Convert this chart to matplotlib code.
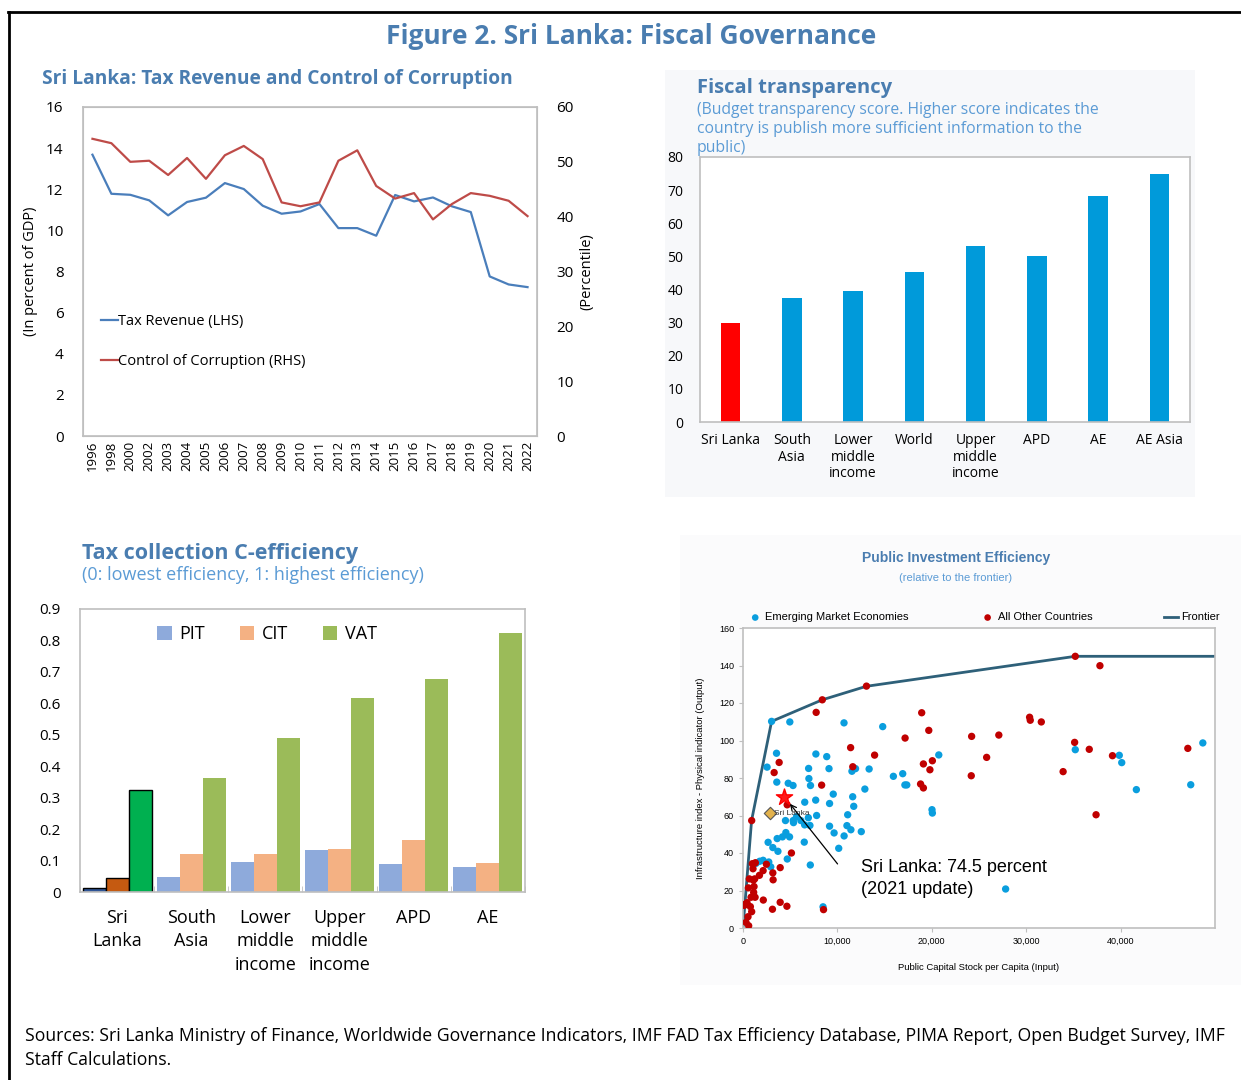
import numpy as np
import matplotlib
matplotlib.use("Agg")
import matplotlib.pyplot as plt
from matplotlib.lines import Line2D
from matplotlib.patches import Rectangle

plt.rcParams['font.family'] = ['Open Sans', 'DejaVu Sans']
NARROW = ['Liberation Sans Narrow', 'Liberation Sans', 'DejaVu Sans']

# ---- data: tax revenue / control of corruption
years = ['1996', '1998', '2000', '2002', '2003', '2004', '2005', '2006', '2007', '2008',
         '2009', '2010', '2011', '2012', '2013', '2014', '2015', '2016', '2017', '2018',
         '2019', '2020', '2021', '2022']
tax_revenue = [13.68, 11.78, 11.73, 11.46, 10.73, 11.38, 11.59, 12.30, 12.01, 11.20,
               10.81, 10.92, 11.28, 10.11, 10.11, 9.74, 11.72, 11.41, 11.60, 11.17,
               10.89, 7.76, 7.37, 7.24]
corruption = [54.2, 53.4, 50.0, 50.2, 47.6, 50.7, 46.9, 51.2, 52.9, 50.5,
              42.6, 41.9, 42.6, 50.2, 52.1, 45.6, 43.3, 44.3, 39.5, 42.3,
              44.3, 43.8, 42.9, 40.1]

# ---- data: fiscal transparency
ft_labels = ['Sri Lanka', 'South\nAsia', 'Lower\nmiddle\nincome', 'World',
             'Upper\nmiddle\nincome', 'APD', 'AE', 'AE Asia']
ft_values = [30.0, 37.4, 39.6, 45.2, 53.2, 50.2, 68.1, 74.8]

# ---- data: C-efficiency
ce_labels = ['Sri\nLanka', 'South\nAsia', 'Lower\nmiddle\nincome', 'Upper\nmiddle\nincome', 'APD', 'AE']
pit = [0.013, 0.047, 0.096, 0.134, 0.090, 0.080]
cit = [0.045, 0.121, 0.121, 0.138, 0.164, 0.091]
vat = [0.324, 0.361, 0.490, 0.616, 0.678, 0.824]

# ---- data: public investment efficiency
eme_x = [3030, 4960, 10700, 14800, 2550, 3550, 3580, 4790, 5300, 7720, 8870, 9110, 6950, 6980,
         7150, 7700, 6540, 9170, 9560, 7800, 6920, 6530, 7090, 9170, 9650, 10140, 10710, 11010,
         11090, 11430, 11620, 11730, 11540, 11920, 12910, 13360, 12530, 15930, 16920, 17150,
         17350, 20020, 20060, 20740, 27820, 35200, 39860, 40120, 41670, 47430, 48710, 8480,
         7130, 4690, 3700, 2660, 3160, 3620, 4180, 4540, 4930, 4500, 5320, 5350, 5670, 6130,
         6490, 1770, 2130, 2730, 2940, 1380]
eme_y = [110.2, 109.9, 109.4, 107.4, 85.8, 93.2, 77.8, 77.2, 76.0, 92.8, 91.4, 85.0, 85.1, 79.7,
         76.0, 68.2, 67.1, 66.4, 71.4, 60.0, 58.8, 55.0, 54.7, 54.3, 50.7, 42.5, 49.1, 54.6,
         60.4, 52.4, 70.0, 64.9, 83.6, 85.0, 74.1, 84.8, 51.4, 80.9, 82.3, 76.3,
         76.3, 63.1, 61.3, 92.3, 20.8, 95.1, 92.1, 88.2, 73.8, 76.4, 98.7, 11.3,
         33.6, 36.8, 40.9, 45.7, 42.9, 47.7, 48.6, 50.9, 48.6, 57.3, 57.3, 56.2, 59.4, 57.3,
         45.8, 35.6, 36.1, 35.2, 32.6, 34.5]
oth_x = [920, 3830, 3300, 7750, 8400, 13080, 11400, 11630, 13940, 8330, 4680, 5130, 3940, 3160,
         3190, 2480, 2130, 1740, 1240, 1310, 990, 1060, 670, 1100, 570, 1170, 1130, 850, 1280,
         140, 430, 780, 920, 530, 320, 600, 2150, 3120, 3940, 4650, 8530, 18930, 19680, 17170,
         19110, 20060, 19800, 18810, 19110, 24220, 24180, 25810, 27100, 30360, 30430, 31600,
         33910, 35130, 35200, 36680, 37810, 37400, 39140, 47120, 60]
oth_y = [57.3, 88.3, 82.9, 115.0, 121.7, 129.0, 96.2, 86.0, 92.2, 76.2, 65.7, 40.0, 32.2, 29.4,
         25.7, 34.0, 30.6, 28.1, 26.2, 34.8, 34.3, 31.6, 26.2, 25.5, 21.4, 22.1, 19.0, 16.4, 16.4,
         12.1, 13.5, 11.4, 8.7, 6.0, 3.0, 1.2, 14.9, 10.0, 13.7, 11.6, 9.8, 114.8, 105.4, 101.3,
         87.5, 89.2, 84.4, 76.8, 74.7, 102.2, 81.2, 91.0, 102.9, 112.4, 110.8, 109.9,
         83.4, 99.0, 144.9, 95.3, 139.9, 60.4, 91.9, 95.8, 12.4]
frontier_x = [0, 910, 3030, 8400, 13060, 35200, 50000]
frontier_y = [0, 57.4, 110.2, 121.7, 128.9, 144.9, 144.9]
sl_old = (2880, 61.3)
sl_new = (4390, 69.9)

W, H = 1241, 1080
TITLE = '#4a7db0'
SUB = '#5b9bd5'
GRID = '#bfbfbf'


def rect(l, t, r, b):
    return [l / W, 1 - b / H, (r - l) / W, (b - t) / H]


def ftext(x, y, s, **kw):
    fig.text(x / W, 1 - y / H, s, **kw)


def excel_box(ax):
    for sp in ax.spines.values():
        sp.set_color(GRID)
        sp.set_linewidth(1.2)
    ax.tick_params(length=0)


fig = plt.figure(figsize=(W / 100, H / 100), dpi=100)

# background panels
fig.patches.append(Rectangle((665 / W, 1 - 497 / H), 530 / W, 427 / H, transform=fig.transFigure,
                             facecolor='#f7f8fa', edgecolor='none', zorder=-5))
fig.patches.append(Rectangle((680 / W, 1 - 985 / H), 561 / W, 450 / H, transform=fig.transFigure,
                             facecolor='#fbfbfc', edgecolor='none', zorder=-5))

# frame lines
fig.add_artist(Line2D([8 / W, 1], [1 - 12 / H, 1 - 12 / H], color='black', lw=2))
fig.add_artist(Line2D([9 / W, 9 / W], [1 - 12 / H, 0], color='black', lw=2))

ftext(631, 36, 'Figure 2. Sri Lanka: Fiscal Governance', ha='center', va='center',
      fontsize=19, fontweight='bold', color=TITLE)

# ---------------- chart 1
ax1 = fig.add_axes(rect(83, 107, 537, 436))
xpos = np.arange(len(years))
ax1.plot(xpos, tax_revenue, color='#4a7ebb', lw=1.6, label='Tax Revenue (LHS)')
ax1.set_xlim(-0.5, len(years) - 0.5)
ax1.set_ylim(0, 16)
ax1.set_yticks(range(0, 17, 2))
ax1.set_xticks(xpos)
ax1.set_xticklabels(years, rotation=90, fontsize=9.5)
ax1.tick_params(axis='y', labelsize=11, pad=14)
ax1.set_ylabel('(In percent of GDP)', fontsize=10.5, labelpad=6)
excel_box(ax1)
ax1b = ax1.twinx()
ax1b.plot(xpos, corruption, color='#be4b48', lw=1.6, label='Control of Corruption (RHS)')
ax1b.set_ylim(0, 60)
ax1b.set_yticks(range(0, 61, 10))
ax1b.tick_params(axis='y', labelsize=11, length=0, pad=14)
ax1b.set_ylabel('(Percentile)', fontsize=10.5, labelpad=4)
for sp in ax1b.spines.values():
    sp.set_color(GRID)
h1, l1 = ax1.get_legend_handles_labels()
h2, l2 = ax1b.get_legend_handles_labels()
ax1b.legend(h1 + h2, l1 + l2, loc='center left', bbox_to_anchor=(0.01, 0.287), frameon=False,
            fontsize=10.5, handlelength=1.2, handletextpad=0.0, labelspacing=1.7)
ftext(42, 79, 'Sri Lanka: Tax Revenue and Control of Corruption', ha='left', va='center',
      fontsize=13.8, fontweight='bold', color=TITLE)

# ---------------- chart 2
ax2 = fig.add_axes(rect(700, 157, 1190, 422))
ax2.set_facecolor('white')
colors2 = ['#ff0000'] + ['#009ada'] * (len(ft_values) - 1)
ax2.bar(np.arange(len(ft_values)), ft_values, width=0.32, color=colors2)
ax2.set_xlim(-0.5, len(ft_values) - 0.5)
ax2.set_ylim(0, 80)
ax2.set_yticks(range(0, 81, 10))
ax2.set_xticks(np.arange(len(ft_values)))
ax2.set_xticklabels(ft_labels, fontsize=10, linespacing=1.15, va='top')
ax2.tick_params(axis='y', labelsize=10, pad=12)
ax2.tick_params(axis='x', pad=8)
excel_box(ax2)
ftext(697, 88, 'Fiscal transparency', ha='left', va='center', fontsize=14.5,
      fontweight='bold', color=TITLE)
ftext(697, 129, '(Budget transparency score. Higher score indicates the\n'
      'country is publish more sufficient information to the\npublic)',
      ha='left', va='center', fontsize=11.3, color=SUB, linespacing=1.22)

# ---------------- chart 3
ax3 = fig.add_axes(rect(80, 609, 525, 892))
gx = np.arange(len(ce_labels))
bw = 0.31
ax3.bar(gx - bw, pit, width=bw, color='#8eaadb', label='PIT')
ax3.bar(gx, cit, width=bw, color='#f4b183', label='CIT')
ax3.bar(gx + bw, vat, width=bw, color='#9bbb59', label='VAT')
# Sri Lanka highlighted
ax3.bar(gx[0] - bw, pit[0], width=bw, color='#2f5597', edgecolor='black', lw=1)
ax3.bar(gx[0], cit[0], width=bw, color='#c55a11', edgecolor='black', lw=1)
ax3.bar(gx[0] + bw, vat[0], width=bw, color='#00b050', edgecolor='black', lw=1)
ax3.set_xlim(-0.5, len(ce_labels) - 0.5)
ax3.set_ylim(0, 0.9)
ax3.set_yticks(np.arange(0, 0.91, 0.1))
ax3.set_yticklabels(['0'] + ['%.1f' % v for v in np.arange(0.1, 0.91, 0.1)])
ax3.set_xticks(gx)
ax3.set_xticklabels(ce_labels, fontsize=13, linespacing=1.4)
ax3.tick_params(axis='y', labelsize=11, pad=14)
ax3.tick_params(axis='x', pad=12)
excel_box(ax3)
ax3.set_xticks(np.arange(-0.5, len(ce_labels)), minor=True)
ax3.tick_params(axis='x', which='minor', length=4, direction='in', color=GRID)
ax3.legend(loc='upper center', bbox_to_anchor=(0.42, 1.0), ncol=3, frameon=False, fontsize=13,
           handlelength=0.8, handleheight=0.8, handletextpad=0.4, columnspacing=1.95)
ftext(82, 553, 'Tax collection C-efficiency', ha='left', va='center', fontsize=15.5,
      fontweight='bold', color=TITLE)
ftext(82, 575, '(0: lowest efficiency, 1: highest efficiency)', ha='left', va='center',
      fontsize=13, color=SUB)

# ---------------- chart 4
ax4 = fig.add_axes(rect(743, 628, 1215, 928))
ax4.set_facecolor('white')
ax4.scatter(eme_x, eme_y, s=28, color='#0a9ede', edgecolor='none', zorder=3,
            label='Emerging Market Economies')
ax4.scatter(oth_x, oth_y, s=28, color='#c00000', edgecolor='none', zorder=3,
            label='All Other Countries')
ax4.plot(frontier_x, frontier_y, color='#2e6079', lw=2, zorder=2, label='Frontier')
ax4.scatter([sl_old[0]], [sl_old[1]], marker='D', s=40, color='#e3b24c', edgecolor='#555555',
            lw=0.8, zorder=4)
ax4.text(sl_old[0] + 450, sl_old[1], 'Sri Lanka', fontsize=6, va='center', color='#333333',
         family=NARROW, zorder=5)
ax4.scatter([sl_new[0]], [sl_new[1]], marker='*', s=150, color='#ff1a1a', edgecolor='#ff0000',
            zorder=5)
ax4.annotate('', xy=(sl_new[0] + 400, sl_new[1] - 2.5), xytext=(10200, 33),
             arrowprops=dict(arrowstyle='->', color='black', lw=0.9), zorder=6)
ax4.text(12500, 26.5, 'Sri Lanka: 74.5 percent\n(2021 update)', fontsize=13, va='center',
         ha='left', family=NARROW, linespacing=1.4)
ax4.set_xlim(0, 50000)
ax4.set_ylim(0, 160)
ax4.set_xticks(range(0, 40001, 10000))
ax4.set_xticklabels(['0', '10,000', '20,000', '30,000', '40,000'])
ax4.set_yticks(range(0, 161, 20))
for lab in ax4.get_xticklabels() + ax4.get_yticklabels():
    lab.set_family(NARROW)
    lab.set_fontsize(6.5)
ax4.tick_params(length=3, color=GRID)
for sp in ax4.spines.values():
    sp.set_color(GRID)
    sp.set_linewidth(1.2)
ax4.set_xlabel('Public Capital Stock per Capita (Input)', fontsize=6.8, family=NARROW, labelpad=12)
ax4.set_ylabel('Infrastructure index - Physical indicator (Output)', fontsize=6.8, family=NARROW,
               labelpad=10)
ax4.legend(loc='lower left', bbox_to_anchor=(0.0, 1.0), ncol=3, frameon=False,
           prop={'family': NARROW, 'size': 8}, handlelength=1.2, handletextpad=0.3,
           columnspacing=6.5, borderaxespad=0.1, markerscale=0.9)
ftext(956, 558, 'Public Investment Efficiency', ha='center', va='center', fontsize=10,
      fontweight='bold', color=TITLE, family=NARROW)
ftext(956, 578, '(relative to the frontier)', ha='center', va='center', fontsize=8,
      color=SUB, family=NARROW)

# ---------------- sources
ftext(25, 1048, 'Sources: Sri Lanka Ministry of Finance, Worldwide Governance Indicators, IMF FAD Tax '
      'Efficiency Database, PIMA Report, Open Budget Survey, IMF\nStaff Calculations.',
      ha='left', va='center', fontsize=12.7, linespacing=1.45)

fig.savefig('out.png', dpi=100)
